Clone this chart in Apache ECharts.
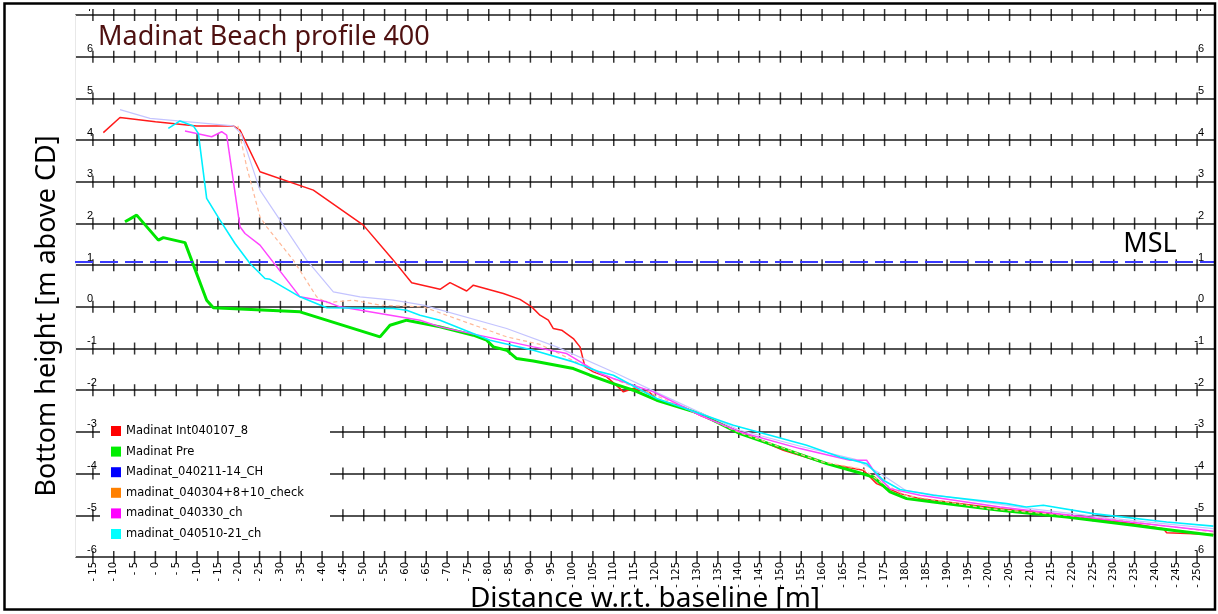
<!DOCTYPE html>
<html><head><meta charset="utf-8">
<script src="https://cdn.jsdelivr.net/npm/echarts@6/dist/echarts.min.js"></script>
<style>html,body{margin:0;padding:0;background:#fff}#c{width:1218px;height:614px}</style>
</head><body><div id="c"></div>
<script>
// ---- data ----
const seriesNames = ['Madinat Int040107_8','Madinat Pre','Madinat_040211-14_CH','madinat_040304+8+10_check','madinat_040330_ch','madinat_040510-21_ch'];
const legendColors = ['#ff0000','#00ee00','#0000ff','#ff8000','#ff00ff','#00ffff'];
const lineColors = ['#ff1a1a','#00e600','#c4c4ff','#ffb898','#ff44ff','#00f0ff'];

const xTicks = []; for (let v = -15; v <= 250; v += 5) xTicks.push(v);
const yTicks = [-6,-5,-4,-3,-2,-1,0,1,2,3,4,5,6,7];
const xMin = -19.3, xMax = 254.3;
const mslLevel = 1.07;

const red = [[-12.5,4.18],[-8.5,4.54],[0,4.44],[9.9,4.34],[18.7,4.34],[20.3,4.24],[25.1,3.24],[37.9,2.8],[49.9,1.96],[57.1,1.12],[61.5,0.58],[68.3,0.42],[70.7,0.58],[74.7,0.38],[76.3,0.52],[83.5,0.32],[87.5,0.18],[90.3,0.0],[92.3,-0.2],[94.3,-0.32],[95.5,-0.52],[97.5,-0.56],[100.3,-0.76],[101.9,-0.96],[103.1,-1.44],[105.1,-1.56],[108.3,-1.68],[111.5,-1.96],[112.3,-2.04],[114.7,-1.96],[118.7,-2.06],[120.3,-2.22],[126.7,-2.4],[130.7,-2.6],[140.3,-3.0],[150.7,-3.44],[161.1,-3.76],[169.9,-3.92],[173.1,-4.24],[178.7,-4.48],[183.5,-4.6],[186.7,-4.64],[202.7,-4.84],[218.7,-5.0],[234.7,-5.2],[241.9,-5.32],[242.7,-5.42],[253.9,-5.46]];
const green = [[-7.3,2.04],[-4.5,2.2],[0.7,1.6],[1.9,1.66],[7.1,1.54],[12.3,0.16],[13.9,-0.02],[34.7,-0.12],[53.9,-0.72],[56.3,-0.44],[60.3,-0.32],[68.3,-0.48],[76.3,-0.68],[79.5,-0.8],[81.1,-0.96],[84.3,-1.04],[86.7,-1.24],[90.7,-1.3],[100.3,-1.48],[104.3,-1.64],[109.9,-1.84],[114.7,-2.0],[120.3,-2.24],[130.7,-2.56],[140.3,-3.04],[150.7,-3.4],[161.1,-3.76],[168.3,-3.96],[172.3,-4.08],[176.3,-4.44],[180.3,-4.6],[186.7,-4.68],[202.7,-4.88],[218.7,-5.04],[234.7,-5.24],[241.1,-5.32],[253.9,-5.48]];
const blue = [[-8.5,4.73],[-1.3,4.52],[18.7,4.34],[20.6,4.15],[25.1,2.8],[36.3,1.12],[42.7,0.36],[49.1,0.24],[57.1,0.16],[64.3,0.04],[84.3,-0.52],[96.3,-0.96],[110.7,-1.6],[120,-2.04],[131,-2.55],[140.3,-2.96],[155,-3.35],[168,-3.66],[174,-4.0],[180,-4.4],[190,-4.56],[210,-4.84],[230,-5.08],[253.9,-5.32]];
const orange = [[19.8,4.34],[21.9,3.36],[25.1,2.16],[26.7,1.92],[33.1,1.12],[38.7,0.24],[41.1,0.1],[47.5,0.16],[53.9,0.04],[64.3,0.0],[84.3,-0.72],[92.3,-0.9],[106.7,-1.6],[120,-2.12],[140.3,-3.02],[160,-3.72],[170,-3.9],[174,-4.2],[180,-4.52],[200,-4.84],[230,-5.1],[253.9,-5.4]];
const magenta = [[7.1,4.22],[13.5,4.08],[15.9,4.2],[17.1,4.12],[20.3,1.92],[21.5,1.76],[25.1,1.48],[34.7,0.24],[41.1,0.12],[44.3,0.0],[63.5,-0.32],[68.3,-0.48],[90.7,-0.96],[98.7,-1.12],[106.7,-1.6],[109.9,-1.72],[119.5,-2.04],[130.7,-2.6],[140.3,-3.0],[154.7,-3.4],[166.7,-3.68],[170.7,-3.68],[173.1,-4.04],[176.3,-4.36],[183.5,-4.52],[202.7,-4.8],[226.7,-5.08],[253.9,-5.38]];
const cyan = [[3.1,4.28],[5.9,4.46],[9.1,4.34],[10.3,4.16],[12.3,2.6],[15.5,2.08],[19.1,1.52],[22.7,1.04],[26.3,0.68],[27.5,0.66],[34.7,0.24],[41.1,-0.02],[57.1,-0.04],[60.3,-0.08],[63.5,-0.2],[68.3,-0.32],[80.3,-0.8],[90.7,-1.04],[100.3,-1.32],[106.7,-1.56],[109.9,-1.64],[120.3,-2.2],[138.7,-2.84],[156.3,-3.32],[164.3,-3.6],[170.7,-3.76],[174.7,-4.16],[178.7,-4.38],[186.7,-4.52],[204.3,-4.72],[209,-4.8],[213.1,-4.76],[225.1,-4.96],[242.7,-5.16],[253.9,-5.26]];

const titleText = 'Madinat Beach profile 400';
const yTitle = 'Bottom height [m above CD]';
const xTitle = 'Distance w.r.t. baseline [m]';
const mslText = 'MSL';

// ---- chart ----
const seriesData = [red, green, blue, orange, magenta, cyan];
const lineWidths = [1.5, 3, 1.2, 1.2, 1.5, 1.6];
const lineTypes = ['solid','solid','solid',[4,3],'solid','solid'];

const crosses = [];
yTicks.forEach(y => xTicks.forEach(x => crosses.push([x, y])));

const chart = echarts.init(document.getElementById('c'), null, {renderer: 'canvas'});
const lab = {fontFamily: 'Liberation Sans, Arial, sans-serif', fontSize: 11, color: '#000'};

const series = seriesData.map((d, i) => ({
  name: seriesNames[i], type: 'line', data: d, symbol: 'none', showSymbol: false,
  z: 3, silent: true, animation: false,
  itemStyle: {color: legendColors[i]},
  lineStyle: {color: lineColors[i], width: lineWidths[i], type: lineTypes[i]}
}));
series.unshift({
  type: 'scatter', data: crosses, symbol: 'rect', symbolSize: [1.5, 12],
  itemStyle: {color: '#000'}, silent: true, z: 2, animation: false,
  markLine: {
    silent: true, symbol: 'none', animation: false,
    label: {show: false},
    lineStyle: {color: '#3a3aff', width: 2, type: [18, 7]},
    data: [{yAxis: mslLevel}]
  }
});

chart.setOption({
  animation: false,
  backgroundColor: '#fff',
  grid: {left: 75, right: 3, top: 15, bottom: 57, outerBoundsMode: 'none', containLabel: false},
  xAxis: {
    type: 'value', min: xMin, max: xMax,
    axisLine: {show: false}, axisTick: {show: false}, splitLine: {show: false},
    axisLabel: {
      customValues: xTicks, rotate: 90, margin: 5,
      fontFamily: 'DejaVu Sans, sans-serif', fontSize: 10, color: '#000',
      formatter: v => '- ' + Math.abs(v)
    }
  },
  yAxis: [
    {type: 'value', min: -6, max: 7, interval: 1, position: 'left',
     axisLine: {show: true, onZero: false, lineStyle: {color: '#e8e8e8', width: 1}}, axisTick: {show: false},
     splitLine: {show: true, lineStyle: {color: '#1a1a1a', width: 1.5}},
     axisLabel: Object.assign({inside: true, margin: 12, verticalAlign: 'bottom', padding: [0,0,2,0]}, lab)},
    {type: 'value', min: -6, max: 7, interval: 1, position: 'right',
     axisLine: {show: false, onZero: false}, axisTick: {show: false}, splitLine: {show: false},
     axisLabel: Object.assign({inside: true, margin: 11, verticalAlign: 'bottom', padding: [0,0,2,0]}, lab)}
  ],
  legend: {
    show: true, orient: 'vertical', left: 111, top: 424, padding: 0,
    itemWidth: 10, itemHeight: 10, itemGap: 6.6, icon: 'rect', selectedMode: false, z: 8,
    textStyle: {fontFamily: 'DejaVu Sans, sans-serif', fontSize: 11.5, color: '#000', lineHeight: 14},
    itemStyle: {borderWidth: 0},
    data: seriesNames.map((n, i) => ({name: n, itemStyle: {color: legendColors[i], borderWidth: 0}, lineStyle: {color: legendColors[i], width: 0}}))
  },
  graphic: {elements: [
    {type: 'rect', z: 7, silent: true, shape: {x: 100, y: 417, width: 230, height: 131}, style: {fill: '#fff'}},
    {type: 'rect', z: 50, silent: true, shape: {x: 4, y: 3, width: 1211, height: 6}, style: {fill: '#fff'}},
    {type: 'text', z: 20, silent: true, x: 98, y: 37, style: {text: titleText, font: '27px "Noto Sans"', fill: '#4e1010', textAlign: 'left', textVerticalAlign: 'middle'}},
    {type: 'text', z: 20, silent: true, x: 47, y: 316, rotation: Math.PI / 2, style: {text: yTitle, font: '27px "Noto Sans"', fill: '#000', textAlign: 'center', textVerticalAlign: 'middle'}},
    {type: 'text', z: 20, silent: true, x: 645, y: 599, style: {text: xTitle, font: '28px "Noto Sans"', fill: '#000', textAlign: 'center', textVerticalAlign: 'middle'}},
    {type: 'text', z: 20, silent: true, x: 1150, y: 244, style: {text: mslText, font: '27px "Noto Sans"', fill: '#000', textAlign: 'center', textVerticalAlign: 'middle'}},
    {type: 'rect', z: 99, silent: true, shape: {x: 0, y: 610, width: 1218, height: 4}, style: {fill: '#fff'}},
    {type: 'rect', z: 100, silent: true, shape: {x: 4.5, y: 3.5, width: 1210.5, height: 606}, style: {fill: 'none', stroke: '#000', lineWidth: 2.5}}
  ]},
  series: series
});
</script></body></html>
